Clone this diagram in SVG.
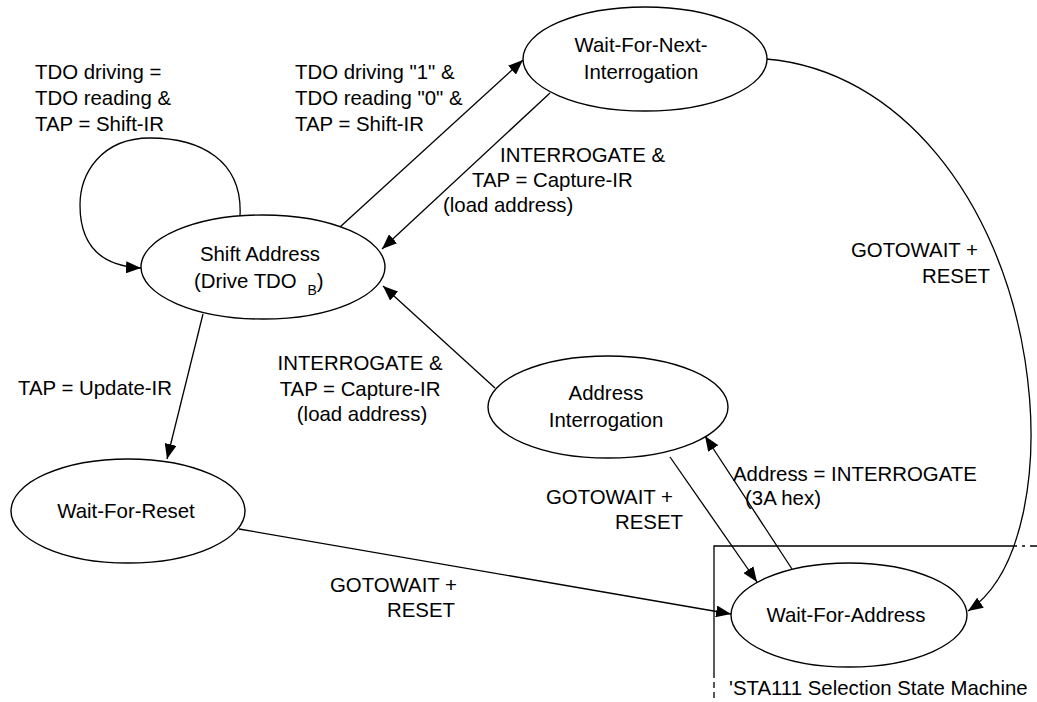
<svg xmlns="http://www.w3.org/2000/svg" width="1037" height="702" viewBox="0 0 1037 702">
<style>
text{font-family:"Liberation Sans",Arial,sans-serif;font-size:20.4px;fill:#000}
.n{fill:#fff;stroke:#000;stroke-width:1.4}
.e{fill:none;stroke:#000;stroke-width:1.3}
.m{text-anchor:middle}
.r{text-anchor:end}
</style>
<defs>
<marker id="a" markerUnits="userSpaceOnUse" markerWidth="16" markerHeight="12" refX="15" refY="6" orient="auto"><path d="M0,0 L15,6 L0,12 z" fill="#000"/></marker>
</defs>
<rect width="1037" height="702" fill="#fff"/>
<g id="frame">
<path d="M714,672 L714,546 L1008,546" fill="none" stroke="#000" stroke-width="1.3"/>
<path d="M1008,546 L1037,546" fill="none" stroke="#000" stroke-width="1.3" stroke-dasharray="9,5,3,5"/>
<path d="M714,672 L714,702" fill="none" stroke="#000" stroke-width="1.3" stroke-dasharray="6,4"/>
<text x="729" y="695">'STA111 Selection State Machine</text>
</g>
<g id="connectors">
<path class="e" d="M240,216 C243,160 200,138 150,138 C100,138 80,175 80,205 C80,245 100,266 141,268" marker-end="url(#a)"/>
<path class="e" d="M340,227 L523,60" marker-end="url(#a)"/>
<path class="e" d="M550,93 L382,249" marker-end="url(#a)"/>
<path class="e" d="M203,314 L167,459" marker-end="url(#a)"/>
<path class="e" d="M495,388 L383,286" marker-end="url(#a)"/>
<path class="e" d="M670,457 L757,582" marker-end="url(#a)"/>
<path class="e" d="M792,569 L705,436" marker-end="url(#a)"/>
<path class="e" d="M766,59 C900,70 1000,200 1025,360 C1042,470 1022,575 968,611" marker-end="url(#a)"/>
<path class="e" d="M239,529 L731,614" marker-end="url(#a)"/>
<text x="35" y="79">TDO driving =</text>
<text x="35" y="105">TDO reading &amp;</text>
<text x="35" y="131">TAP = Shift-IR</text>
<text x="295" y="79">TDO driving "1" &amp;</text>
<text x="295" y="105">TDO reading "0" &amp;</text>
<text x="295" y="131">TAP = Shift-IR</text>
<text x="500" y="162">INTERROGATE &amp;</text>
<text x="472" y="187">TAP = Capture-IR</text>
<text x="443" y="212">(load address)</text>
<text x="18" y="395">TAP = Update-IR</text>
<text class="m" x="360" y="370">INTERROGATE &amp;</text>
<text class="m" x="360" y="396">TAP = Capture-IR</text>
<text class="m" x="362" y="421">(load address)</text>
<text class="r" x="673" y="504">GOTOWAIT +</text>
<text class="r" x="683" y="529">RESET</text>
<text x="733" y="481">Address = INTERROGATE</text>
<text x="745" y="505">(3A hex)</text>
<text class="r" x="978" y="257">GOTOWAIT +</text>
<text class="r" x="990" y="283">RESET</text>
<text class="r" x="457" y="592">GOTOWAIT +</text>
<text class="r" x="455" y="617">RESET</text>
</g>
<g id="wait-for-next">
<ellipse class="n" cx="645" cy="59" rx="122" ry="52"/>
<text class="m" x="641" y="52">Wait-For-Next-</text>
<text class="m" x="641" y="79">Interrogation</text>
</g>
<g id="shift-address">
<ellipse class="n" cx="263" cy="267" rx="122" ry="52"/>
<text class="m" x="260" y="261">Shift Address</text>
<text x="194" y="288">(Drive TDO <tspan dx="5" dy="7" font-size="14">B</tspan><tspan dy="-7">)</tspan></text>
</g>
<g id="wait-for-reset">
<ellipse class="n" cx="128" cy="511" rx="117" ry="52"/>
<text class="m" x="126" y="518">Wait-For-Reset</text>
</g>
<g id="address-interrogation">
<ellipse class="n" cx="608" cy="407" rx="120" ry="51"/>
<text class="m" x="606" y="400">Address</text>
<text class="m" x="606" y="427">Interrogation</text>
</g>
<g id="wait-for-address">
<ellipse class="n" cx="849" cy="615" rx="118" ry="52"/>
<text class="m" x="846" y="622">Wait-For-Address</text>
</g>
</svg>
